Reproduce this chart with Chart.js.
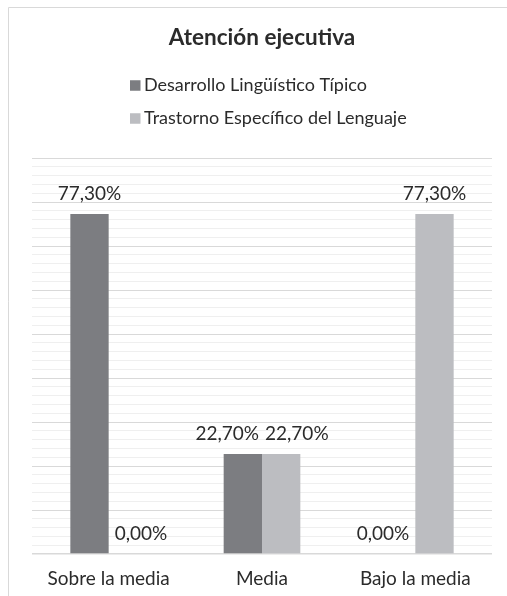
<!DOCTYPE html>
<html>
<head>
<meta charset="utf-8">
<script src="https://cdn.jsdelivr.net/npm/chart.js@4"></script>
<style>
  html, body { margin: 0; padding: 0; background: #fff; }
  #wrap { position: relative; width: 507px; height: 596px; }
</style>
</head>
<body>
<div id="wrap"><canvas id="myChart"></canvas></div>
<script>
// datos del gráfico
const categories = ['Sobre la media', 'Media', 'Bajo la media'];
const seriesNames = ['Desarrollo Lingüístico Típico', 'Trastorno Específico del Lenguaje'];
const dltValues = [77.3, 22.7, 0];
const telValues = [0, 22.7, 77.3];
const seriesColors = ['#7c7d81', '#bcbdc1'];

const FONT = 'Lato, "Open Sans", sans-serif';
const TEXT_COLOR = '#2b2b2b';

function fmtPct(v) {
    return v.toFixed(2).replace('.', ',') + '%';
}

// marco gris (borde superior e izquierdo)
const framePlugin = {
    id: 'frame',
    beforeDraw(chart) {
        const ctx = chart.ctx;
        ctx.save();
        ctx.strokeStyle = '#d9d9d9';
        ctx.lineWidth = 1;
        ctx.beginPath();
        ctx.moveTo(8.5, chart.height);
        ctx.lineTo(8.5, 7.5);
        ctx.lineTo(chart.width, 7.5);
        ctx.stroke();
        ctx.restore();
    }
};

// leyenda vertical alineada a la izquierda
const legendPlugin = {
    id: 'stackLegend',
    afterDraw(chart) {
        const ctx = chart.ctx;
        const x0 = 130, y0 = 85.5, rowH = 33, box = 10.5;
        ctx.save();
        ctx.font = '18px ' + FONT;
        ctx.textBaseline = 'middle';
        ctx.textAlign = 'left';
        chart.data.datasets.forEach((ds, i) => {
            const y = y0 + i * rowH;
            ctx.fillStyle = ds.backgroundColor;
            ctx.fillRect(x0, y - box / 2, box, box);
            ctx.fillStyle = TEXT_COLOR;
            ctx.fillText(ds.label, x0 + box + 3.5, y);
        });
        ctx.restore();
    }
};

// etiquetas de valores sobre las barras
const valueLabels = {
    id: 'valueLabels',
    afterDatasetsDraw(chart) {
        const ctx = chart.ctx;
        ctx.save();
        ctx.font = '19px ' + FONT;
        ctx.fillStyle = TEXT_COLOR;
        ctx.textAlign = 'center';
        ctx.textBaseline = 'middle';
        const labels = [];
        const bars = [];
        chart.data.datasets.forEach((ds, di) => {
            const meta = chart.getDatasetMeta(di);
            meta.data.forEach((bar, i) => {
                const text = fmtPct(ds.data[i]);
                bars.push({ cat: i, ds: di, left: bar.x - bar.width / 2, right: bar.x + bar.width / 2, top: bar.y });
                labels.push({ cat: i, ds: di, x: bar.x, y: bar.y - 20, text, w: ctx.measureText(text).width });
            });
        });
        // apartar la etiqueta de la barra vecina si la tapa
        labels.forEach(l => {
            bars.filter(b => b.cat === l.cat && b.ds !== l.ds && b.top < l.y + 10).forEach(b => {
                const lLeft = l.x - l.w / 2, lRight = l.x + l.w / 2;
                if (lLeft < b.right && lRight > b.left) {
                    if (b.left < l.x - 1) l.x = b.right + 6 + l.w / 2;
                    else l.x = b.left - 6 - l.w / 2;
                }
            });
        });
        // separar etiquetas que se solapan
        categories.forEach((c, ci) => {
            const pair = labels.filter(l => l.cat === ci);
            if (pair.length === 2 && Math.abs(pair[0].y - pair[1].y) < 12) {
                const need = (pair[0].w + pair[1].w) / 2 + 6;
                const gap = pair[1].x - pair[0].x;
                if (gap < need) {
                    const d = (need - gap) / 2;
                    pair[0].x -= d;
                    pair[1].x += d;
                }
            }
        });
        labels.forEach(l => ctx.fillText(l.text, l.x, l.y));
        ctx.restore();
    }
};

new Chart(document.getElementById('myChart'), {
    type: 'bar',
    data: {
        labels: categories,
        datasets: [
            { label: seriesNames[0], data: dltValues, backgroundColor: seriesColors[0] },
            { label: seriesNames[1], data: telValues, backgroundColor: seriesColors[1] }
        ]
    },
    options: {
        responsive: true,
        maintainAspectRatio: false,
        animation: false,
        layout: { padding: { left: 32, right: 15, top: 0, bottom: 0 } },
        datasets: {
            bar: { categoryPercentage: 0.5, barPercentage: 1.0 }
        },
        plugins: {
            legend: { display: false },
            tooltip: { enabled: false },
            title: {
                display: true,
                text: 'Atención ejecutiva',
                color: TEXT_COLOR,
                font: { family: FONT, size: 22.5, weight: 'bold', lineHeight: 1.2 },
                padding: { top: 24.5, bottom: 106.5 }
            }
        },
        scales: {
            x: {
                grid: { display: false, drawTicks: false },
                border: { display: false },
                ticks: {
                    color: TEXT_COLOR,
                    padding: 13,
                    font: { family: FONT, size: 19 }
                },
                afterFit(scale) { scale.height = 42; }
            },
            y: {
                min: 0,
                max: 90,
                border: { display: false },
                grid: {
                    drawTicks: false,
                    color: ctx => (ctx.tick.value % 10 === 0 ? '#d9d9d9' : '#efefef'),
                    lineWidth: ctx => (ctx.tick.value === 0 ? 1.5 : 1)
                },
                ticks: { display: false, stepSize: 2 },
                afterFit(scale) { scale.width = 0; }
            }
        }
    },
    plugins: [framePlugin, legendPlugin, valueLabels]
});
</script>
</body>
</html>
